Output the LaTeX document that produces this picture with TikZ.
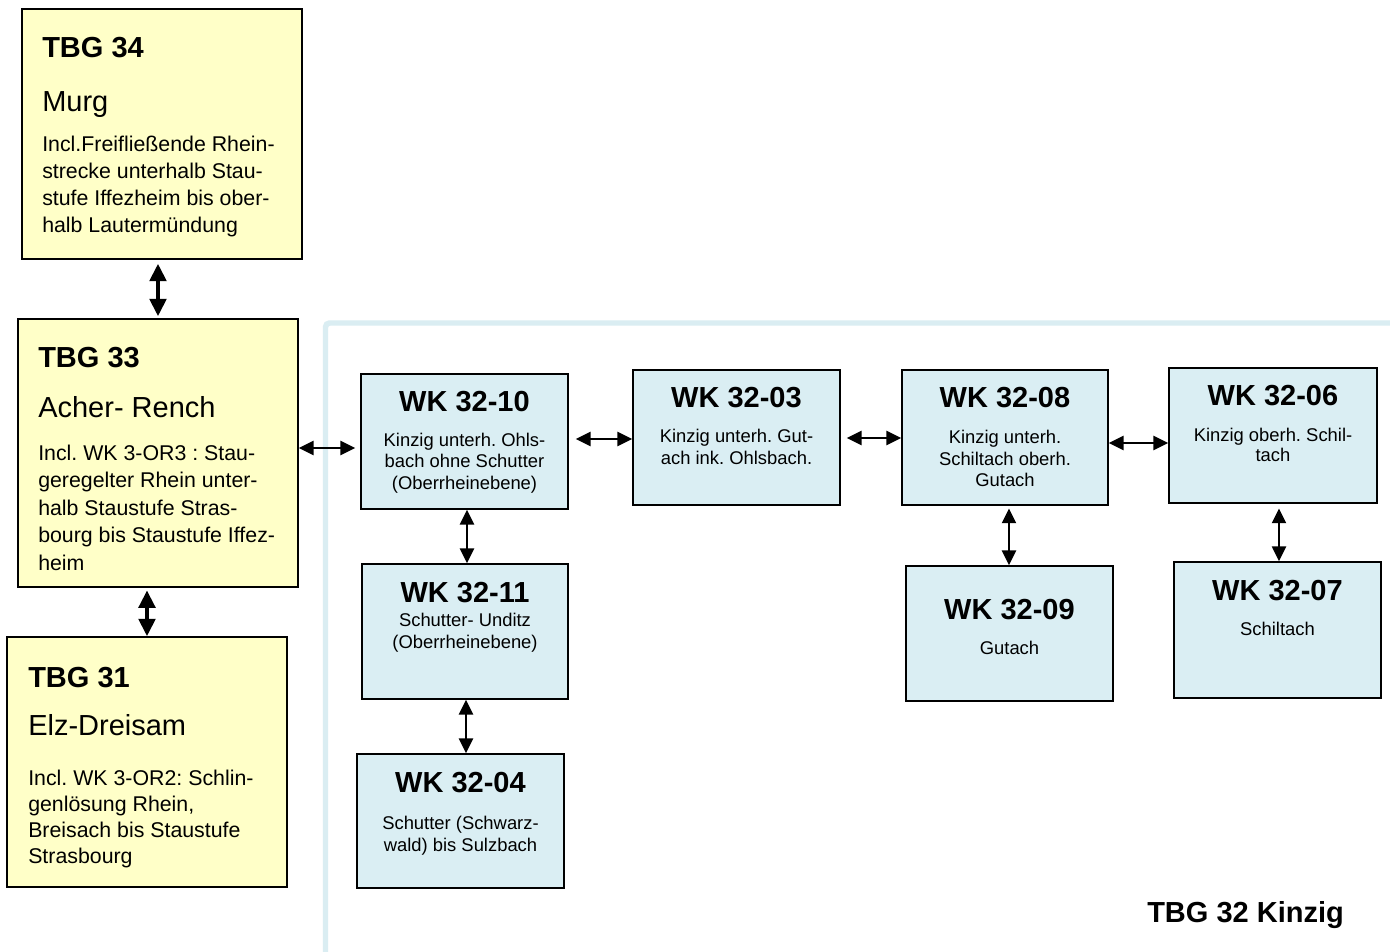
\documentclass[tikz,border=0pt]{standalone}
\usepackage{fontspec}
\setmainfont{Liberation Sans}
\usetikzlibrary{arrows.meta}
\definecolor{wkfill}{HTML}{DAEEF3}
\definecolor{tbgfill}{HTML}{FFFFC8}
\definecolor{frameblue}{HTML}{DAEDF2}
\frenchspacing
\newcommand\mybox[6]{\node[#2, minimum width={(#5-#3)*0.75pt}, minimum height={(#6-#4)*0.75pt}] (#1) at ({(#3+#5)/2},{(#4+#6)/2}) {};}
\begin{document}
\begin{tikzpicture}[x=0.75pt,y=-0.75pt,
  tbgbox/.style={draw=black, fill=tbgfill, line width=1.3pt, inner sep=0pt},
  wkbox/.style={draw=black, fill=wkfill, line width=1.3pt, inner sep=0pt},
  head/.style={font=\fontsize{21.75}{26}\selectfont\bfseries, inner sep=0pt},
  sub/.style={font=\fontsize{21.75}{26}\selectfont, inner sep=0pt, anchor=base west},
  tbody/.style={font=\fontsize{16}{20}\selectfont, inner sep=0pt, anchor=base west},
  wbody/.style={font=\fontsize{13.8}{16}\selectfont, inner sep=0pt, anchor=base},
  arr/.style={line width=1.5pt, {Triangle[length=11pt,width=10.5pt]}-{Triangle[length=11pt,width=10.5pt]}},
  bigarr/.style={line width=2.6pt, {Triangle[length=13pt,width=12.5pt]}-{Triangle[length=13pt,width=12.5pt]}},
]
\useasboundingbox (0,0) rectangle (1390,952);
\fill[white] (0,0) rectangle (1390,952);
% frame of TBG 32
\draw[frameblue, line width=4.1pt, rounded corners=3pt] (325.5,1000) -- (325.5,323) -- (1450,323);

% TBG 34
\mybox{b34}{tbgbox}{22}{9}{302}{259}
\node[head, anchor=base west] (b34h) at (42,58) {TBG 34};
\node[sub] (b34s) at (42,112) {Murg};
\node[tbody] (b34a) at (42,152) {Incl.Freifließende Rhein-};
\node[tbody] (b34b) at (42,179) {strecke unterhalb Stau-};
\node[tbody] (b34c) at (42,206) {stufe Iffezheim bis ober-};
\node[tbody] (b34d) at (42,233) {halb Lautermündung};

% TBG 33
\mybox{b33}{tbgbox}{18}{319}{298}{587}
\node[head, anchor=base west] (b33h) at (38,368) {TBG 33};
\node[sub] (b33s) at (38,418) {Acher- Rench};
\node[tbody] (b33a) at (38,460) {Incl. WK 3-OR3 : Stau-};
\node[tbody] (b33b) at (38,487.5) {geregelter Rhein unter-};
\node[tbody] (b33c) at (38,515) {halb Staustufe Stras-};
\node[tbody] (b33d) at (38,542.5) {bourg bis Staustufe Iffez-};
\node[tbody] (b33e) at (38,570) {heim};

% TBG 31
\mybox{b31}{tbgbox}{7}{637}{287}{887}
\node[head, anchor=base west] (b31h) at (28,687) {TBG 31};
\node[sub] (b31s) at (28,735) {Elz-Dreisam};
\node[tbody] (b31a) at (28,785) {Incl. WK 3-OR2: Schlin-};
\node[tbody] (b31b) at (28,811) {genlösung Rhein,};
\node[tbody] (b31c) at (28,837) {Breisach bis Staustufe};
\node[tbody] (b31d) at (28,863) {Strasbourg};

% WK boxes
\mybox{b10}{wkbox}{361}{374}{568}{509}
\node[head, anchor=base] (b10h) at (464.5,411.7) {WK 32-10};
\node[wbody] (b10a) at (464.5,447) {Kinzig unterh. Ohls-};
\node[wbody] (b10b) at (464.5,468) {bach ohne Schutter};
\node[wbody] (b10c) at (464.5,489.5) {(Oberrheinebene)};

\mybox{b03}{wkbox}{633}{370}{840}{505}
\node[head, anchor=base] (b03h) at (736.5,407) {WK 32-03};
\node[wbody] (b03a) at (736.5,443) {Kinzig unterh. Gut-};
\node[wbody] (b03b) at (736.5,464.5) {ach ink. Ohlsbach.};

\mybox{b08}{wkbox}{902}{370}{1108}{505}
\node[head, anchor=base] (b08h) at (1005,408) {WK 32-08};
\node[wbody] (b08a) at (1005,444) {Kinzig unterh.};
\node[wbody] (b08b) at (1005,465) {Schiltach oberh.};
\node[wbody] (b08c) at (1005,486) {Gutach};

\mybox{b06}{wkbox}{1169}{368}{1377}{503}
\node[head, anchor=base] (b06h) at (1273,406) {WK 32-06};
\node[wbody] (b06a) at (1273,441) {Kinzig oberh. Schil-};
\node[wbody] (b06b) at (1273,462) {tach};

\mybox{b11}{wkbox}{362}{564}{568}{699}
\node[head, anchor=base] (b11h) at (465,602) {WK 32-11};
\node[wbody] (b11a) at (465,626) {Schutter- Unditz};
\node[wbody] (b11b) at (465,648) {(Oberrheinebene)};

\mybox{b04}{wkbox}{357}{754}{564}{888}
\node[head, anchor=base] (b04h) at (460.5,792) {WK 32-04};
\node[wbody] (b04a) at (460.5,829) {Schutter (Schwarz-};
\node[wbody] (b04b) at (460.5,851) {wald) bis Sulzbach};

\mybox{b09}{wkbox}{906}{566}{1113}{701}
\node[head, anchor=base] (b09h) at (1009.5,619) {WK 32-09};
\node[wbody] (b09a) at (1009.5,654) {Gutach};

\mybox{b07}{wkbox}{1174}{562}{1381}{698}
\node[head, anchor=base] (b07h) at (1277.5,600) {WK 32-07};
\node[wbody] (b07a) at (1277.5,635) {Schiltach};

\node[head, anchor=base west] (k32) at (1147,922) {TBG 32 Kinzig};

% connectors
\draw[bigarr, shorten <=3pt, shorten >=1.5pt] (b33.north |- b34.south) -- (b33.north);
\draw[bigarr, shorten <=2pt] (b31.north |- b33.south) -- (b31.north);
\draw[arr, shorten >=3.75pt] ([yshift=3.75pt]b33.east) -- ([yshift=3.75pt]b33.east -| b10.west);
\draw[arr, shorten <=5.25pt] (b10.east |- 0,439) -- (b03.west |- 0,439);
\draw[arr, shorten <=4.5pt] (b03.east |- 0,438) -- (b08.west |- 0,438);
\draw[arr] (b08.east |- 0,443) -- (b06.west |- 0,443);
\draw[arr] (b10.south -| 467,0) -- (b11.north -| 467,0);
\draw[arr] (b11.south -| 466,0) -- (b04.north -| 466,0);
\draw[arr, shorten <=2pt] (b08.south -| 1009,0) -- (b09.north -| 1009,0);
\draw[arr, shorten <=3.5pt] (b06.south -| 1279,0) -- (b07.north -| 1279,0);
\end{tikzpicture}
\end{document}
